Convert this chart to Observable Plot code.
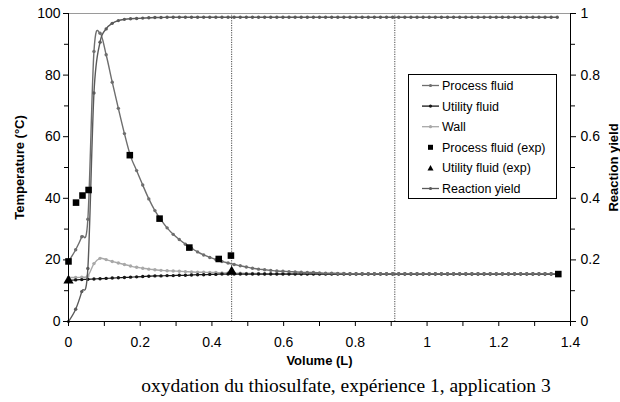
<!DOCTYPE html>
<html><head><meta charset="utf-8">
<script src="https://cdn.jsdelivr.net/npm/d3@7"></script>
<script src="https://cdn.jsdelivr.net/npm/@observablehq/plot@0.6"></script>
<style>
body{margin:0;background:#fff;}
#wrap{position:relative;width:620px;height:402px;overflow:hidden;background:#fff;}
#caption{position:absolute;left:0;width:692px;top:376px;text-align:center;font-family:"Liberation Serif","Times New Roman",serif;font-size:19.5px;line-height:1;color:#000;white-space:nowrap;}
</style></head><body><div id="wrap"><div id="chart"></div><div id="caption">oxydation du thiosulfate, expérience 1, application 3</div></div>
<script>
// Volume grid (L)
const volume = [
0, 0.020, 0.037, 0.054, 0.071, 0.088, 0.105, 0.122, 0.139, 0.156,
0.173, 0.190, 0.207, 0.224, 0.241, 0.258, 0.275, 0.292, 0.309, 0.326,
0.343, 0.360, 0.377, 0.394, 0.411, 0.428, 0.445, 0.462, 0.479, 0.496,
0.513, 0.530, 0.547, 0.564, 0.581, 0.598, 0.615, 0.632, 0.649, 0.666,
0.683, 0.700, 0.717, 0.734, 0.751, 0.768, 0.785, 0.802, 0.819, 0.836,
0.853, 0.870, 0.887, 0.904, 0.921, 0.938, 0.955, 0.972, 0.989, 1.006,
1.023, 1.040, 1.057, 1.074, 1.091, 1.108, 1.125, 1.142, 1.159, 1.176,
1.193, 1.210, 1.227, 1.244, 1.261, 1.278, 1.295, 1.312, 1.329, 1.346,
1.363];
// Temperatures (°C)
const processFluid = [
19.5, 23.3, 27.5, 33.2, 87.7, 93.6, 86.6, 77.7, 69.2, 61.0,
53.7, 49.0, 44.3, 39.8, 36.0, 33.0, 30.4, 28.3, 26.6, 25.1,
23.8, 22.6, 21.6, 20.8, 20.1, 19.5, 19.0, 18.5, 18.1, 17.7,
17.3, 17.0, 16.8, 16.6, 16.4, 16.3, 16.2, 16.1, 16.0, 15.9,
15.9, 15.8, 15.7, 15.7, 15.6, 15.6, 15.5, 15.5, 15.5, 15.5,
15.5, 15.5, 15.5, 15.5, 15.5, 15.5, 15.5, 15.5, 15.5, 15.5,
15.5, 15.5, 15.5, 15.5, 15.5, 15.5, 15.5, 15.5, 15.5, 15.5,
15.5, 15.5, 15.5, 15.5, 15.5, 15.5, 15.5, 15.5, 15.5, 15.5,
15.5];
const utilityFluid = [
13.4, 13.5, 13.6, 13.7, 13.8, 13.9, 14.0, 14.1, 14.2, 14.3,
14.4, 14.5, 14.6, 14.7, 14.8, 14.8, 14.9, 14.9, 15.0, 15.0,
15.1, 15.2, 15.2, 15.3, 15.3, 15.4, 15.4, 15.4, 15.4, 15.4,
15.4, 15.4, 15.4, 15.4, 15.4, 15.4, 15.4, 15.4, 15.4, 15.4,
15.4, 15.4, 15.4, 15.4, 15.4, 15.4, 15.4, 15.4, 15.4, 15.4,
15.4, 15.4, 15.4, 15.4, 15.4, 15.4, 15.4, 15.4, 15.4, 15.4,
15.4, 15.4, 15.4, 15.4, 15.4, 15.4, 15.4, 15.4, 15.4, 15.4,
15.4, 15.4, 15.4, 15.4, 15.4, 15.4, 15.4, 15.4, 15.4, 15.4,
15.4];
const wall = [
14.3, 14.3, 14.4, 14.8, 18.8, 20.5, 20.1, 19.5, 19.0, 18.5,
18.0, 17.6, 17.3, 17.0, 16.8, 16.6, 16.5, 16.4, 16.3, 16.2,
16.1, 16.0, 16.0, 15.9, 15.9, 15.8, 15.8, 15.7, 15.7, 15.6,
15.6, 15.6, 15.5, 15.5, 15.5, 15.5, 15.5, 15.5, 15.5, 15.5,
15.5, 15.5, 15.5, 15.5, 15.5, 15.5, 15.5, 15.5, 15.5, 15.5,
15.5, 15.5, 15.5, 15.5, 15.5, 15.5, 15.5, 15.5, 15.5, 15.5,
15.5, 15.5, 15.5, 15.5, 15.5, 15.5, 15.5, 15.5, 15.5, 15.5,
15.5, 15.5, 15.5, 15.5, 15.5, 15.5, 15.5, 15.5, 15.5, 15.5,
15.5];
// Reaction yield (0-1, right axis)
const reactionYield = [
0, 0.040, 0.097, 0.172, 0.742, 0.907, 0.950, 0.968, 0.977, 0.981,
0.983, 0.984, 0.985, 0.986, 0.987, 0.987, 0.988, 0.988, 0.988, 0.988,
0.988, 0.988, 0.988, 0.988, 0.988, 0.988, 0.988, 0.988, 0.988, 0.988,
0.988, 0.988, 0.988, 0.988, 0.988, 0.988, 0.988, 0.988, 0.988, 0.988,
0.988, 0.988, 0.988, 0.988, 0.988, 0.988, 0.988, 0.988, 0.988, 0.988,
0.988, 0.988, 0.988, 0.988, 0.988, 0.988, 0.988, 0.988, 0.988, 0.988,
0.988, 0.988, 0.988, 0.988, 0.988, 0.988, 0.988, 0.988, 0.988, 0.988,
0.988, 0.988, 0.988, 0.988, 0.988, 0.988, 0.988, 0.988, 0.988, 0.988,
0.988];
// Experimental points
const processExpVolume = [0, 0.021, 0.039, 0.056, 0.171, 0.254, 0.337, 0.419, 0.453, 1.366];
const processExpTemp   = [19.5, 38.6, 40.9, 42.7, 54.0, 33.4, 24.0, 20.3, 21.4, 15.4];
const utilityExpVolume = [0, 0.455];
const utilityExpTemp   = [13.3, 16.2];
// Plate boundaries (dotted verticals)
const plateBoundaries = [0.455, 0.91];
// Ticks
const xMajorTicks = [0, 0.2, 0.4, 0.6, 0.8, 1.0, 1.2, 1.4];
const xMinorTicks = [0.1, 0.3, 0.5, 0.7, 0.9, 1.1, 1.3];
const yMajorTicks = [0, 20, 40, 60, 80, 100];
const yMinorTicks = [10, 30, 50, 70, 90];
const legendLabels = ["Process fluid", "Utility fluid", "Wall", "Process fluid (exp)", "Utility fluid (exp)", "Reaction yield"];

const rows = volume.map((v, i) => ({v, process: processFluid[i], utility: utilityFluid[i], wall: wall[i], yld: reactionYield[i] * 100}));
const pExp = processExpVolume.map((v, i) => ({v, t: processExpTemp[i]}));
const uExp = utilityExpVolume.map((v, i) => ({v, t: utilityExpTemp[i]}));

const C = {process: "#6e6e6e", utility: "#161616", wall: "#a8a8a8", yld: "#5a5a5a"};
const fmt = d => String(+(+d).toFixed(1));
const FONT = "Liberation Sans, Arial, sans-serif";

const chart = Plot.plot({
  width: 620, height: 372,
  marginTop: 13, marginBottom: 51, marginLeft: 68, marginRight: 50,
  style: {fontFamily: FONT, fontSize: "14px", color: "#000", background: "#fff", overflow: "visible"},
  x: {domain: [0, 1.4]},
  y: {domain: [0, 100]},
  marks: [
    Plot.ruleX(plateBoundaries, {stroke: "#4a4a4a", strokeDasharray: "1.2,1.2", strokeWidth: 1}),
    Plot.ruleY([100], {stroke: "#9a9a9a", strokeWidth: 1.2}),
    // wall
    Plot.line(rows, {x: "v", y: "wall", stroke: C.wall, strokeWidth: 1.4, curve: "cardinal"}),
    Plot.dot(rows, {x: "v", y: "wall", r: 1.7, fill: C.wall}),
    // utility
    Plot.line(rows, {x: "v", y: "utility", stroke: C.utility, strokeWidth: 1.2, curve: "cardinal"}),
    Plot.dot(rows, {x: "v", y: "utility", r: 1.7, fill: C.utility}),
    // process
    Plot.line(rows, {x: "v", y: "process", stroke: C.process, strokeWidth: 1.4, curve: "cardinal"}),
    Plot.dot(rows, {x: "v", y: "process", r: 1.7, fill: C.process}),
    // yield
    Plot.line(rows, {x: "v", y: "yld", stroke: C.yld, strokeWidth: 1.4, curve: "cardinal"}),
    Plot.dot(rows, {x: "v", y: "yld", r: 1.7, fill: C.yld}),
    // experiments
    Plot.dot(pExp, {x: "v", y: "t", symbol: "square", r: 3.7, fill: "#000"}),
    Plot.dot(uExp, {x: "v", y: "t", symbol: "triangle", r: 3.8, fill: "#000"}),
    // axis lines
    Plot.ruleX([0], {stroke: "#000"}),
    Plot.ruleX([1.4], {stroke: "#000"}),
    Plot.ruleY([0], {stroke: "#000"}),
    // axes
    Plot.axisX(xMajorTicks, {tickSize: 5, tickPadding: 11, tickFormat: fmt, label: null, fontSize: 14, stroke: "#000"}),
    Plot.axisX(xMinorTicks, {tickSize: 5, tickFormat: () => "", label: null, stroke: "#000"}),
    Plot.axisY(yMajorTicks, {anchor: "left", tickSize: 5, tickPadding: 3, tickFormat: d => String(d), label: null, fontSize: 14, stroke: "#000"}),
    Plot.axisY(yMinorTicks, {anchor: "left", tickSize: 4, tickFormat: () => "", label: null, stroke: "#000"}),
    Plot.axisY(yMajorTicks, {anchor: "right", tickSize: 5, tickPadding: 5, tickFormat: d => fmt(d / 100), label: null, fontSize: 14, stroke: "#000"}),
    Plot.axisY(yMinorTicks, {anchor: "right", tickSize: 4, tickFormat: () => "", label: null, stroke: "#000"}),
    // titles
    Plot.text(["Temperature (°C)"], {text: d => d, frameAnchor: "left", dx: -49, rotate: -90, textAnchor: "middle", lineAnchor: "middle", fontWeight: "bold", fontSize: 13}),
    Plot.text(["Reaction yield"], {text: d => d, frameAnchor: "right", dx: 43, rotate: -90, textAnchor: "middle", lineAnchor: "middle", fontWeight: "bold", fontSize: 13}),
    Plot.text(["Volume (L)"], {text: d => d, frameAnchor: "bottom", dy: 43, textAnchor: "middle", fontWeight: "bold", fontSize: 13})
  ]
});
document.getElementById("chart").appendChild(chart);

// Legend box drawn inside the plot SVG
const svg = d3.select(chart);
const lg = svg.append("g").attr("font-family", FONT).attr("font-size", 12.5).attr("text-anchor", "start");
lg.append("rect").attr("x", 408.5).attr("y", 74.5).attr("width", 148).attr("height", 124)
  .attr("fill", "#fff").attr("stroke", "#000").attr("stroke-width", 1);
const legendStyle = [
  {type: "line", color: C.process},
  {type: "line", color: C.utility},
  {type: "line", color: C.wall},
  {type: "square", color: "#000"},
  {type: "triangle", color: "#000"},
  {type: "line", color: C.yld}
];
legendLabels.forEach((label, i) => {
  const cy = 85.5 + i * 20.6;
  const st = legendStyle[i];
  if (st.type === "line") {
    lg.append("line").attr("x1", 422).attr("x2", 439).attr("y1", cy).attr("y2", cy).attr("stroke", st.color).attr("stroke-width", 1.3);
    lg.append("circle").attr("cx", 430.5).attr("cy", cy).attr("r", 1.6).attr("fill", st.color);
  } else if (st.type === "square") {
    lg.append("rect").attr("x", 428).attr("y", cy - 2.5).attr("width", 5).attr("height", 5).attr("fill", st.color);
  } else {
    lg.append("path").attr("d", `M430.5,${cy - 3}L433.5,${cy + 2.5}L427.5,${cy + 2.5}Z`).attr("fill", st.color);
  }
  lg.append("text").attr("x", 442).attr("y", cy + 4.4).attr("fill", "#000").attr("text-anchor", "start").text(label);
});
</script>
</body></html>
